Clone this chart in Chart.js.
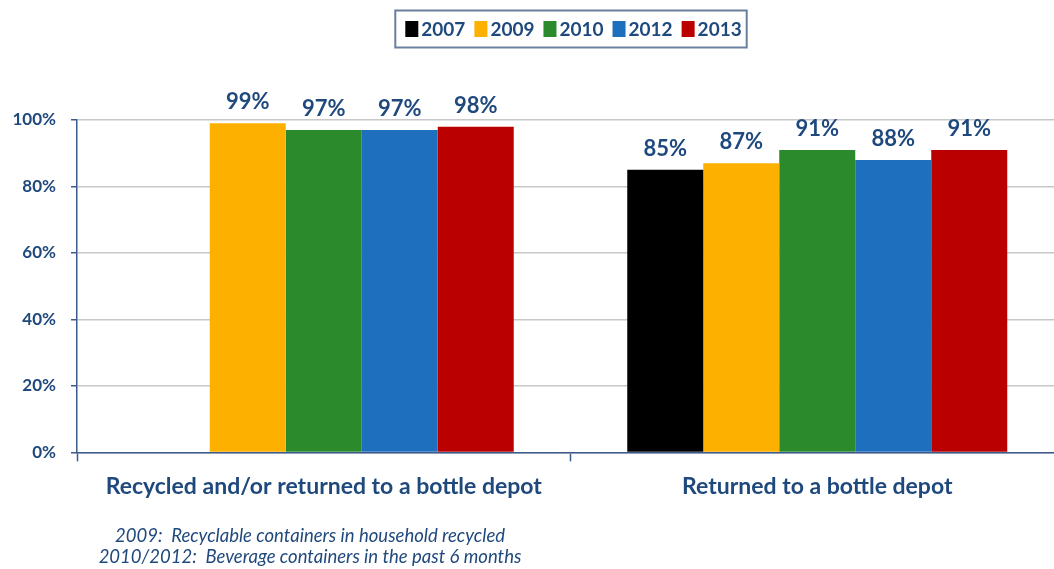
<!DOCTYPE html>
<html lang="en">
<head>
    <meta charset="UTF-8">
    <title>Recycling rates</title>
    <script src="https://cdn.jsdelivr.net/npm/chart.js"></script>
    <style>
        html, body {
            margin: 0;
            padding: 0;
            background: #ffffff;
            overflow: hidden;
        }
        #chart {
            display: block;
        }
    </style>
</head>
<body>
    <canvas id="chart" width="1064" height="569"></canvas>

    <script>
        // categories, years and survey results (percent)
        const categories = ['Recycled and/or returned to a bottle depot', 'Returned to a bottle depot'];
        const years = ['2007', '2009', '2010', '2012', '2013'];
        const values2007 = [null, 85];
        const values2009 = [99, 87];
        const values2010 = [97, 91];
        const values2012 = [97, 88];
        const values2013 = [98, 91];
        const yearColors = ['#000000', '#fdb000', '#2b8a2b', '#1f6fbf', '#bb0000'];
        const yTicks = [0, 20, 40, 60, 80, 100];
        const notes = [
            '2009:  Recyclable containers in household recycled',
            '2010/2012:  Beverage containers in the past 6 months'
        ];

        const navy = '#1f497d';
        const axisColor = '#3b5b8c';
        const fontFamily = 'Lato, "Open Sans", sans-serif';

        const seriesValues = [values2007, values2009, values2010, values2012, values2013];

        // value labels above each bar
        const valueLabels = {
            id: 'valueLabels',
            afterDatasetsDraw(chart) {
                const ctx = chart.ctx;
                ctx.save();
                ctx.font = 'bold 22px ' + fontFamily;
                ctx.fillStyle = navy;
                ctx.textAlign = 'center';
                ctx.textBaseline = 'middle';
                chart.data.datasets.forEach((ds, i) => {
                    const meta = chart.getDatasetMeta(i);
                    meta.data.forEach((bar, j) => {
                        const v = ds.data[j];
                        if (v === null || v === undefined) return;
                        ctx.fillText(v + '%', bar.x, bar.y - 21);
                    });
                });
                ctx.restore();
            }
        };

        // boxed legend at the top and the notes under the axis
        const legendAndNotes = {
            id: 'legendAndNotes',
            afterDraw(chart) {
                const ctx = chart.ctx;
                ctx.save();

                ctx.font = 'bold 19px ' + fontFamily;
                const sq = 13, gap = 3, itemGap = 9, padL = 10, padR = 5;
                const items = chart.data.datasets.map(ds => ({
                    text: ds.label,
                    color: ds.backgroundColor,
                    w: ctx.measureText(ds.label).width
                }));
                let total = padL + padR;
                items.forEach((it, i) => {
                    total += sq + gap + it.w + (i < items.length - 1 ? itemGap : 0);
                });
                const cx = 571, cy = 29, boxH = 37;
                const left = cx - total / 2;

                ctx.strokeStyle = '#6a7f9e';
                ctx.lineWidth = 2;
                ctx.strokeRect(left, cy - boxH / 2, total, boxH);

                let x = left + padL;
                ctx.textBaseline = 'middle';
                ctx.textAlign = 'left';
                items.forEach(it => {
                    ctx.fillStyle = it.color;
                    ctx.fillRect(x, cy - 8, sq, 16);
                    x += sq + gap;
                    ctx.fillStyle = navy;
                    ctx.fillText(it.text, x, cy + 1);
                    x += it.w + itemGap;
                });

                ctx.font = 'italic 18.5px ' + fontFamily;
                ctx.fillStyle = navy;
                ctx.textAlign = 'center';
                ctx.fillText(notes[0], 310, 536);
                ctx.fillText(notes[1], 310, 557);

                ctx.restore();
            }
        };

        const chart = new Chart(document.getElementById('chart').getContext('2d'), {
            type: 'bar',
            data: {
                labels: categories,
                datasets: years.map((y, i) => ({
                    label: y,
                    data: seriesValues[i],
                    backgroundColor: yearColors[i],
                    borderWidth: 0
                }))
            },
            options: {
                responsive: false,
                animation: false,
                layout: {
                    padding: { top: 120, right: 0, bottom: 58, left: 0 }
                },
                datasets: {
                    bar: {
                        barPercentage: 1.0,
                        categoryPercentage: 0.77
                    }
                },
                plugins: {
                    legend: { display: false },
                    tooltip: { enabled: false }
                },
                scales: {
                    x: {
                        grid: {
                            offset: true,
                            drawOnChartArea: false,
                            drawTicks: true,
                            tickLength: 9,
                            tickColor: axisColor,
                            tickWidth: 1.5
                        },
                        border: { color: axisColor, width: 1.5 },
                        ticks: {
                            color: navy,
                            padding: 11,
                            font: { family: fontFamily, size: 23, weight: 'bold' }
                        }
                    },
                    y: {
                        min: 0,
                        max: 100,
                        afterFit(scale) { scale.width = 77; },
                        afterBuildTicks(scale) {
                            scale.ticks = yTicks.map(v => ({ value: v }));
                        },
                        grid: {
                            color: '#c8c8c8',
                            lineWidth: 1.5,
                            drawTicks: true,
                            tickLength: 6,
                            tickColor: axisColor,
                            tickWidth: 1.5
                        },
                        border: { color: axisColor, width: 1.5 },
                        ticks: {
                            color: navy,
                            padding: 15,
                            font: { family: fontFamily, size: 17, weight: 'bold' },
                            callback: v => v + '%'
                        }
                    }
                }
            },
            plugins: [valueLabels, legendAndNotes]
        });
    </script>
</body>
</html>
